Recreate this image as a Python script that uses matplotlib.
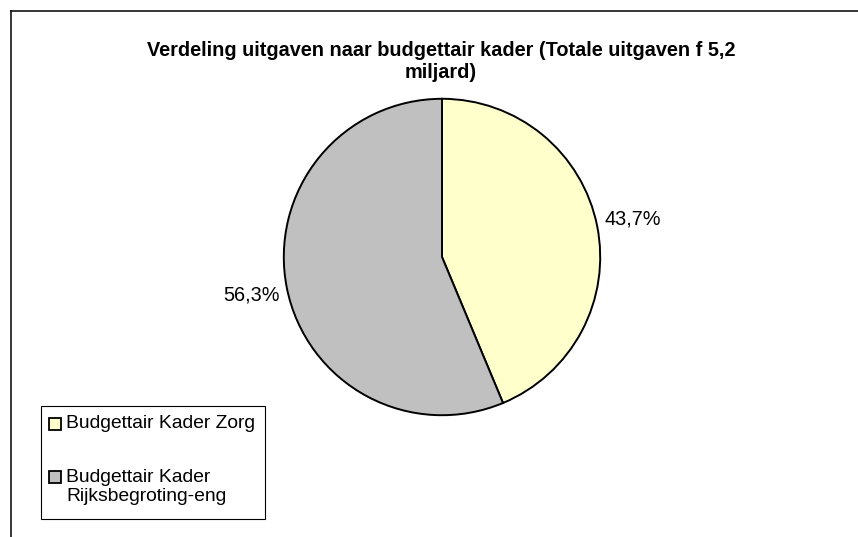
import matplotlib
matplotlib.use("Agg")
import matplotlib.pyplot as plt
from matplotlib.lines import Line2D
from matplotlib.patches import Rectangle

plt.rcParams['font.family'] = ['Liberation Sans', 'DejaVu Sans']

# data
labels = ["Budgettair Kader Zorg", "Budgettair Kader\nRijksbegroting-eng"]
shares = [43.7, 56.3]
colors = ["#FFFFCC", "#C0C0C0"]
title = "Verdeling uitgaven naar budgettair kader (Totale uitgaven f 5,2\nmiljard)"

W, H = 858, 537
fig = plt.figure(figsize=(W / 100, H / 100), dpi=100)


def fx(px):
    return px / W


def fy(py):
    return 1 - py / H


# outer chart frame (only top and left edges are visible)
fig.add_artist(Line2D([fx(11), fx(11)], [0, fy(11)], color="black", lw=1.1))
fig.add_artist(Line2D([fx(11), 1], [fy(11), fy(11)], color="black", lw=1.1))

# pie: centre ~(442, 257), radius ~159 px
cx, cy, r = 442, 257, 159
ax = fig.add_axes([fx(cx - r), (H - cy - r) / H, 2 * r / W, 2 * r / H])
wedges, texts, autotexts = ax.pie(
    shares, colors=colors, startangle=90, counterclock=False,
    wedgeprops=dict(edgecolor="black", linewidth=1.4),
    autopct=lambda p: f"{p:.1f}%".replace(".", ","),
    pctdistance=1.23, radius=1.0,
)
for t in autotexts:
    t.set_fontsize(14.3)
ax.set_xlim(-1.005, 1.005)
ax.set_ylim(-1.005, 1.005)
ax.set_aspect("equal")
ax.axis("off")

fig.text(fx(441), fy(62), title, ha="center", va="center",
         fontsize=14.3, fontweight="bold", linespacing=1.2)

# legend, drawn by hand so the swatch sits at the first text line
fig.add_artist(Rectangle((fx(40.5), fy(519)), fx(265) - fx(40.5), fy(406) - fy(519),
                         transform=fig.transFigure, facecolor="white",
                         edgecolor="black", linewidth=0.8))
item_y = [424, 477]
for lab, col, yy in zip(labels, colors, item_y):
    fig.add_artist(Rectangle((fx(49), fy(yy + 6)), fx(12), 12 / H,
                             transform=fig.transFigure, facecolor=col,
                             edgecolor="black", linewidth=1.3))
    fig.text(fx(66), fy(yy - 8.5), lab, ha="left", va="top",
             fontsize=13.9, linespacing=1.2)

fig.savefig("out.png", dpi=100, facecolor="white")
